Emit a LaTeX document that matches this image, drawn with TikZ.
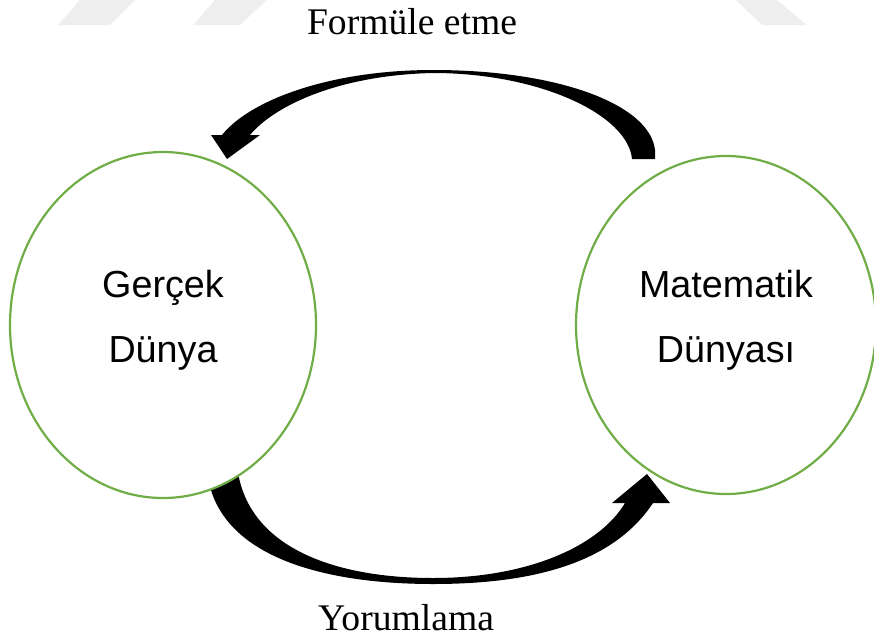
\documentclass[tikz,border=0pt]{standalone}
\usepackage{fontspec}
\setmainfont{Liberation Serif}
\newfontfamily\arialfont{Liberation Sans}
\usetikzlibrary{shapes.geometric}
\definecolor{dunyagreen}{HTML}{70AD47}
\definecolor{filigran}{HTML}{EEEEEE}
\tikzset{
	dunya/.style={ellipse, draw=dunyagreen, line width=2.2pt, fill=white, align=center,
		inner sep=0pt, font=\arialfont\fontsize{37.7}{65}\selectfont},
	etiket/.style={anchor=base, font=\fontsize{37.6}{45}\selectfont}
}
\begin{document}
\begin{tikzpicture}[x=1pt,y=-1pt]
	\useasboundingbox (0,0) rectangle (874,640);

	% Filigran (silik)
	\fill[filigran] (80,0) -- (135,0) -- (110,25) -- (58,25) -- cycle;
	\fill[filigran] (215,0) -- (267,0) -- (240,25) -- (193,25) -- cycle;
	\fill[filigran] (736,0) -- (777,0) -- (807,25) -- (762,25) -- cycle;

	% Ust ok (Formule etme)
	\fill (655,159) -- (655,150) .. controls (650,105) and (560,70) .. (433,70)
		.. controls (330,70) and (250,100) .. (222,135) -- (211,135) -- (227,159)
		-- (260,135) -- (250,135) .. controls (275,105) and (340,75) .. (433,73)
		.. controls (540,73) and (628,115) .. (632,159) -- cycle;

	% Alt ok (Yorumlama)
	\fill (207,470) .. controls (215,555) and (320,584) .. (433,584)
		.. controls (540,584) and (615,560) .. (653,503) -- (670,503) -- (647,474)
		-- (612,503) -- (625,503) .. controls (600,545) and (530,578) .. (433,578)
		.. controls (330,578) and (245,545) .. (237,465) -- cycle;

	% Dunyalar
	\node[dunya, minimum width=306pt, minimum height=346pt] (gercek) at (163,325)
		{Gerçek\\Dünya\rule[-18pt]{0pt}{18pt}};
	\node[dunya, minimum width=300pt, minimum height=338pt] (matematik) at (726,325)
		{Matematik\\Dünyası\rule[-18pt]{0pt}{18pt}};

	% Etiketler
	\node[etiket] (formule) at (412,34) {Formüle etme};
	\node[etiket] (yorumlama) at (406,630) {Yorumlama};
\end{tikzpicture}
\end{document}
